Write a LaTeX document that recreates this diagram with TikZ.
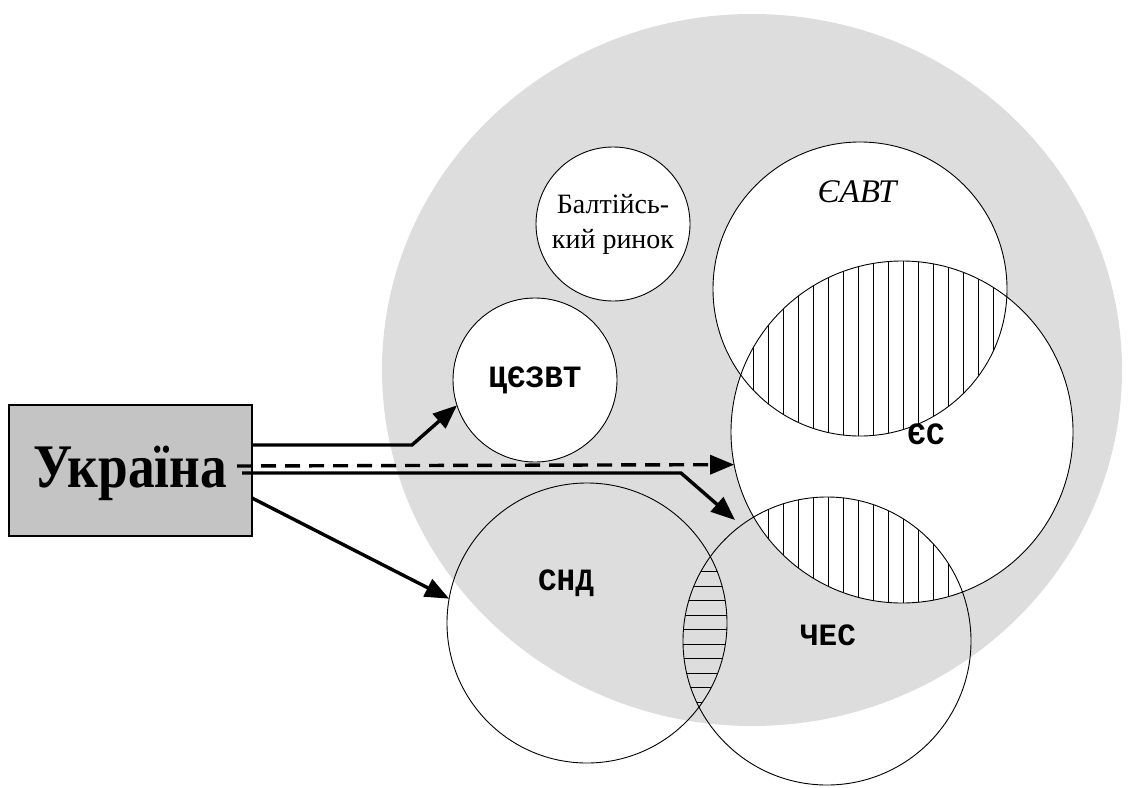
\documentclass[tikz,border=0pt]{standalone}
\usepackage{fontspec}
\setmainfont{Liberation Serif}
\newfontfamily\codefont{Liberation Mono}
\usetikzlibrary{arrows.meta}
\definecolor{field}{HTML}{DDDDDD}
\definecolor{boxgray}{HTML}{C4C4C4}
\newcommand\orgfont{\codefont\bfseries\fontsize{31}{31}\selectfont}
\tikzset{
  bloc/.style={circle, draw=black, line width=0.9pt, inner sep=0pt, outer sep=0pt, minimum size=#1},
  hatch/.style={draw=black, line width=0.9pt},
  link/.style={line width=3.4pt, -{Triangle[length=24pt,width=19pt]}},
  orglabel/.style={font=\orgfont, inner sep=0pt}
}
\begin{document}
\begin{tikzpicture}[x=1pt,y=-1pt]
\useasboundingbox (0,0) rectangle (1129,787);

% grey field of European integration
\fill[field] (752,370) ellipse [x radius=370, y radius=356];

% white interiors
\fill[white] (613,224) circle[radius=77];
\fill[white] (535,380) circle[radius=82];
\fill[white] (860,289) circle[radius=147];
\fill[white] (902,432) circle[radius=171];

% hatched overlaps
\begin{scope}
  \clip (860,289) circle[radius=147];
  \clip (902,432) circle[radius=171];
  \foreach \x in {708,723,...,1008} \draw[hatch] (\x,100) -- (\x,500);
\end{scope}
\begin{scope}
  \clip (902,432) circle[radius=171];
  \clip (827,641) circle[radius=144];
  \foreach \x in {708,723,...,1008} \draw[hatch] (\x,450) -- (\x,650);
\end{scope}
\begin{scope}
  \clip (587,623) circle[radius=140];
  \clip (827,641) circle[radius=144];
  \foreach \y in {557,571.5,...,735} \draw[hatch] (660,\y) -- (740,\y);
\end{scope}

% groupings
\node[bloc=154pt, align=center, font=\fontsize{28}{35}\selectfont] (balt) at (613,224) {Балтійсь-\\кий ринок};
\node[bloc=164pt, font=\orgfont] (cezvt) at (535,380) {ЦЄЗВТ};
\node[bloc=294pt] (eavt) at (860,289) {};
\node[bloc=342pt] (es) at (902,432) {};
\node[bloc=280pt] (snd) at (587,623) {};
\node[bloc=288pt] (ches) at (827,641) {};

\node[font=\itshape\fontsize{33}{33}\selectfont, inner sep=0pt] (eavtlab) at (857,192) {ЄАВТ};
\node[orglabel] (eslab) at (926,434) {ЄС};
\node[orglabel] (sndlab) at (566,583) {СНД};
\node[orglabel] (cheslab) at (828,635) {ЧЕС};

% Ukraine
\node[draw=black, fill=boxgray, line width=1.3pt, minimum width=243pt, minimum height=131pt, inner sep=0pt, outer sep=0pt] (ukr) at (130.5,470.5) {};
\node[anchor=base, inner sep=0pt, font=\bfseries\fontsize{62}{62}\selectfont] (ukrlab) at (130,487) {\scalebox{0.86}[1]{Україна}};

% links
\coordinate (t3) at (735,520);
\draw[link] ([yshift=25.5pt]ukr.east) -- (412,445) -- (cezvt.198.6);
\draw[link, dash pattern=on 15pt off 9pt] ([xshift=-15pt,yshift=4.5pt]ukr.east) -- (es.191.3);
\draw[link] ([xshift=-10pt,yshift=-2.5pt]ukr.east) -- (681,473) -- (t3);
\draw[link] ([yshift=-27.5pt]ukr.east) -- (snd.170.6);
\end{tikzpicture}
\end{document}
